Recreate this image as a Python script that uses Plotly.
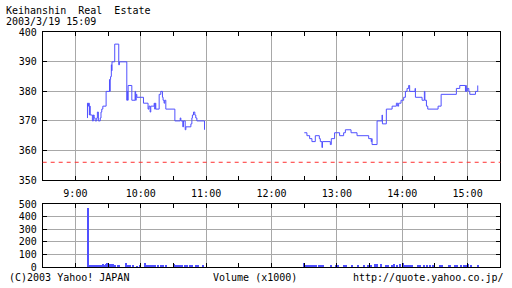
import plotly.graph_objects as go

DATE = "2003-03-19 "

# ---- price data (morning / afternoon sessions) ----
am_times = ["09:11:00", "09:11:06", "09:11:36", "09:12:00", "09:12:48", "09:13:12", "09:13:36",
            "09:15:36", "09:16:30", "09:17:12", "09:18:06", "09:19:36", "09:20:12", "09:21:06",
            "09:22:48", "09:23:30", "09:24:12", "09:25:12", "09:28:12", "09:31:18", "09:31:36",
            "09:31:54", "09:32:18", "09:33:00", "09:33:18", "09:33:36", "09:36:06", "09:39:48",
            "09:40:24", "09:47:12", "09:47:36", "09:48:00", "09:48:24", "09:51:48", "09:54:48",
            "09:55:18", "09:55:48", "09:56:24", "10:02:30", "10:06:42", "10:07:30", "10:08:36",
            "10:09:12", "10:12:18", "10:12:48", "10:13:18", "10:13:48", "10:16:54", "10:18:24",
            "10:19:54", "10:20:30", "10:21:24", "10:22:00", "10:23:00", "10:31:18", "10:36:12",
            "10:36:48", "10:38:36", "10:39:12", "10:40:48", "10:41:24", "10:46:00", "10:46:54",
            "10:47:24", "10:48:24", "10:49:36", "10:50:30", "10:51:30", "10:58:30"]
am_prices = [371, 376, 375, 376, 372, 375, 372,
             370, 372, 371, 370, 371, 373, 370,
             371, 373, 374, 375, 380, 384, 380,
             384, 385, 389, 387, 390, 396, 389,
             390, 377, 380, 377, 382, 377, 380,
             377, 379, 378, 376, 374, 375, 373,
             375, 376, 374, 376, 374, 379, 380,
             378, 377, 376, 377, 374, 370, 371,
             370, 368, 370, 367, 368, 369, 371,
             372, 373, 372, 371, 370, 367]

pm_times = ["12:30:06", "12:32:30", "12:35:00", "12:37:06", "12:40:12", "12:43:54", "12:44:48",
            "12:46:18", "12:46:48", "12:54:00", "12:54:54", "12:57:54", "13:02:30", "13:06:12",
            "13:07:48", "13:13:00", "13:18:30", "13:29:12", "13:31:30", "13:32:00", "13:32:18",
            "13:36:54", "13:41:30", "13:41:48", "13:45:24", "13:50:42", "13:54:36", "13:55:48",
            "13:56:42", "13:58:54", "14:01:18", "14:02:54", "14:04:24", "14:05:54", "14:06:48",
            "14:11:48", "14:12:06", "14:18:12", "14:20:18", "14:20:48", "14:22:12", "14:23:24",
            "14:32:54", "14:35:42", "14:49:42", "14:52:48", "14:58:00", "14:58:24", "14:58:48",
            "14:59:36", "15:01:06", "15:02:00", "15:07:12", "15:09:18"]
pm_prices = [366, 365, 364, 363, 365, 364, 363,
             361, 363, 362, 364, 366, 365, 366,
             367, 366, 365, 364, 363, 364, 362,
             370, 372, 369, 374, 375, 376, 375,
             376, 377, 378, 380, 381, 382, 380,
             381, 378, 377, 380, 377, 375, 374,
             375, 379, 381, 382, 380, 382, 380,
             381, 380, 379, 380, 382]

prev_close = 356

# ---- volume data (x1000) ----
vol_times = ["09:11", "09:12", "09:13", "09:14", "09:15", "09:16", "09:17", "09:18", "09:19", "09:20",
             "09:21", "09:22", "09:23", "09:24", "09:25", "09:26", "09:27", "09:28", "09:29", "09:30",
             "09:31", "09:32", "09:33", "09:34", "09:35", "09:36", "09:39", "09:40", "09:46", "09:48",
             "09:49", "09:50", "09:53", "09:56", "09:59", "10:04", "10:05", "10:06", "10:07", "10:09",
             "10:11", "10:13", "10:16", "10:18", "10:20", "10:23", "10:30", "10:32", "10:34", "10:36",
             "10:38", "10:40", "10:42", "10:45", "10:47", "10:50", "10:52", "10:57",
             "12:30", "12:31", "12:33", "12:35", "12:37", "12:39", "12:41", "12:43", "12:45", "12:47",
             "12:54", "12:59", "13:01", "13:06", "13:08", "13:14", "13:19", "13:25", "13:28", "13:31",
             "13:35", "13:37", "13:40", "13:45", "13:47", "13:50", "13:52", "13:55", "13:58", "14:00",
             "14:01", "14:03", "14:05", "14:07", "14:09", "14:14", "14:16", "14:20", "14:22", "14:25",
             "14:28", "14:34", "14:36", "14:43", "14:44", "14:48", "14:50", "14:54", "14:56", "14:58",
             "15:00", "15:03", "15:09"]
vol_values = [470, 15, 12, 16, 10, 14, 12, 16, 10, 18,
              14, 12, 16, 10, 20, 14, 16, 24, 28, 18,
              26, 22, 18, 24, 16, 14, 8, 10, 28, 14,
              12, 10, 8, 6, 8, 28, 12, 10, 14, 10,
              12, 8, 12, 10, 14, 16, 20, 10, 8, 10,
              8, 8, 10, 8, 8, 10, 8, 10,
              30, 8, 8, 8, 8, 8, 8, 8, 8, 8,
              8, 10, 12, 10, 10, 8, 10, 10, 10, 14,
              24, 20, 20, 16, 16, 16, 20, 16, 20, 28,
              14, 12, 14, 12, 12, 10, 10, 10, 10, 10,
              10, 8, 8, 10, 10, 10, 10, 16, 16, 16,
              24, 14, 10]

# ---- labels ----
title_line1 = "Keihanshin\u00a0\u00a0Real\u00a0\u00a0Estate"
title_line2 = "2003/3/19 15:09"
footer_left = "(C)2003 Yahoo! JAPAN"
footer_mid = "Volume (x1000)"
footer_right = "http://quote.yahoo.co.jp/"

FONT = "DejaVu Sans Mono"
BLUE = "#5050ff"
GRID = "#a8a8a8"
W, H = 512, 288

fig = go.Figure()
fig.add_trace(go.Scatter(x=[DATE + t for t in am_times], y=am_prices, mode="lines",
                         line=dict(shape="hv", color=BLUE, width=1), xaxis="x", yaxis="y",
                         hoverinfo="skip"))
fig.add_trace(go.Scatter(x=[DATE + t for t in pm_times], y=pm_prices, mode="lines",
                         line=dict(shape="hv", color=BLUE, width=1), xaxis="x", yaxis="y",
                         hoverinfo="skip"))
fig.add_trace(go.Bar(x=[DATE + t for t in vol_times], y=vol_values, width=55000,
                     marker=dict(color=BLUE, line=dict(width=0)), xaxis="x2", yaxis="y2",
                     hoverinfo="skip"))

xdom = [42.7 / W, 500.3 / W]
common_x = dict(
    domain=xdom, type="date",
    range=[DATE + "08:30", DATE + "15:30"],
    tick0=DATE + "09:00", dtick=3600000, tickformat="%-H:%M",
    showgrid=True, gridcolor=GRID, gridwidth=1, zeroline=False,
    showline=True, linecolor="black", linewidth=1, mirror="allticks",
    ticks="inside", ticklen=4, tickcolor="black", tickwidth=1,
    minor=dict(dtick=1800000, ticks="inside", ticklen=4, tickcolor="black", showgrid=False),
    tickfont=dict(family=FONT, size=10, color="black"),
    automargin=False,
)
common_y = dict(
    showgrid=True, gridcolor=GRID, gridwidth=1, zeroline=False,
    showline=True, linecolor="black", linewidth=1, mirror="allticks",
    ticks="inside", ticklen=4, tickcolor="black", tickwidth=1,
    tickfont=dict(family=FONT, size=10, color="black"),
    automargin=False,
)

fig.update_layout(
    width=W, height=H, autosize=False,
    margin=dict(l=0, r=0, t=0, b=0, pad=0, autoexpand=False),
    paper_bgcolor="white", plot_bgcolor="white",
    showlegend=False, bargap=0,
    xaxis=dict(anchor="y", ticklabelstandoff=4, **common_x),
    xaxis2=dict(anchor="y2", matches="x", showticklabels=False, **common_x),
    yaxis=dict(anchor="x", domain=[1 - 180.0 / H, 1 - 32.3 / H], range=[350, 400], dtick=10,
               ticklabelstandoff=3, **common_y),
    yaxis2=dict(anchor="x2", domain=[1 - 267.0 / H, 1 - 204.0 / H], range=[0, 500], dtick=100,
                ticklabelstandoff=3, **common_y),
    shapes=[dict(type="line", xref="x domain", yref="y", x0=0, x1=1, y0=prev_close, y1=prev_close,
                 layer="above", line=dict(color="#ff3030", width=1, dash="4px,4px"))],
)

def note(text, px, py, anchor="left"):
    fig.add_annotation(text=text, xref="paper", yref="paper", x=px / W, y=1 - py / H,
                       xanchor=anchor, yanchor="middle", showarrow=False,
                       font=dict(family=FONT, size=10, color="black"))

note(title_line1, 4, 10.5)
note(title_line2, 4, 21.5)
note(footer_left, 7, 277)
note(footer_mid, 254.5, 277, "center")
note(footer_right, 506, 277, "right")

fig.write_html("out.html", config={"displayModeBar": False})
